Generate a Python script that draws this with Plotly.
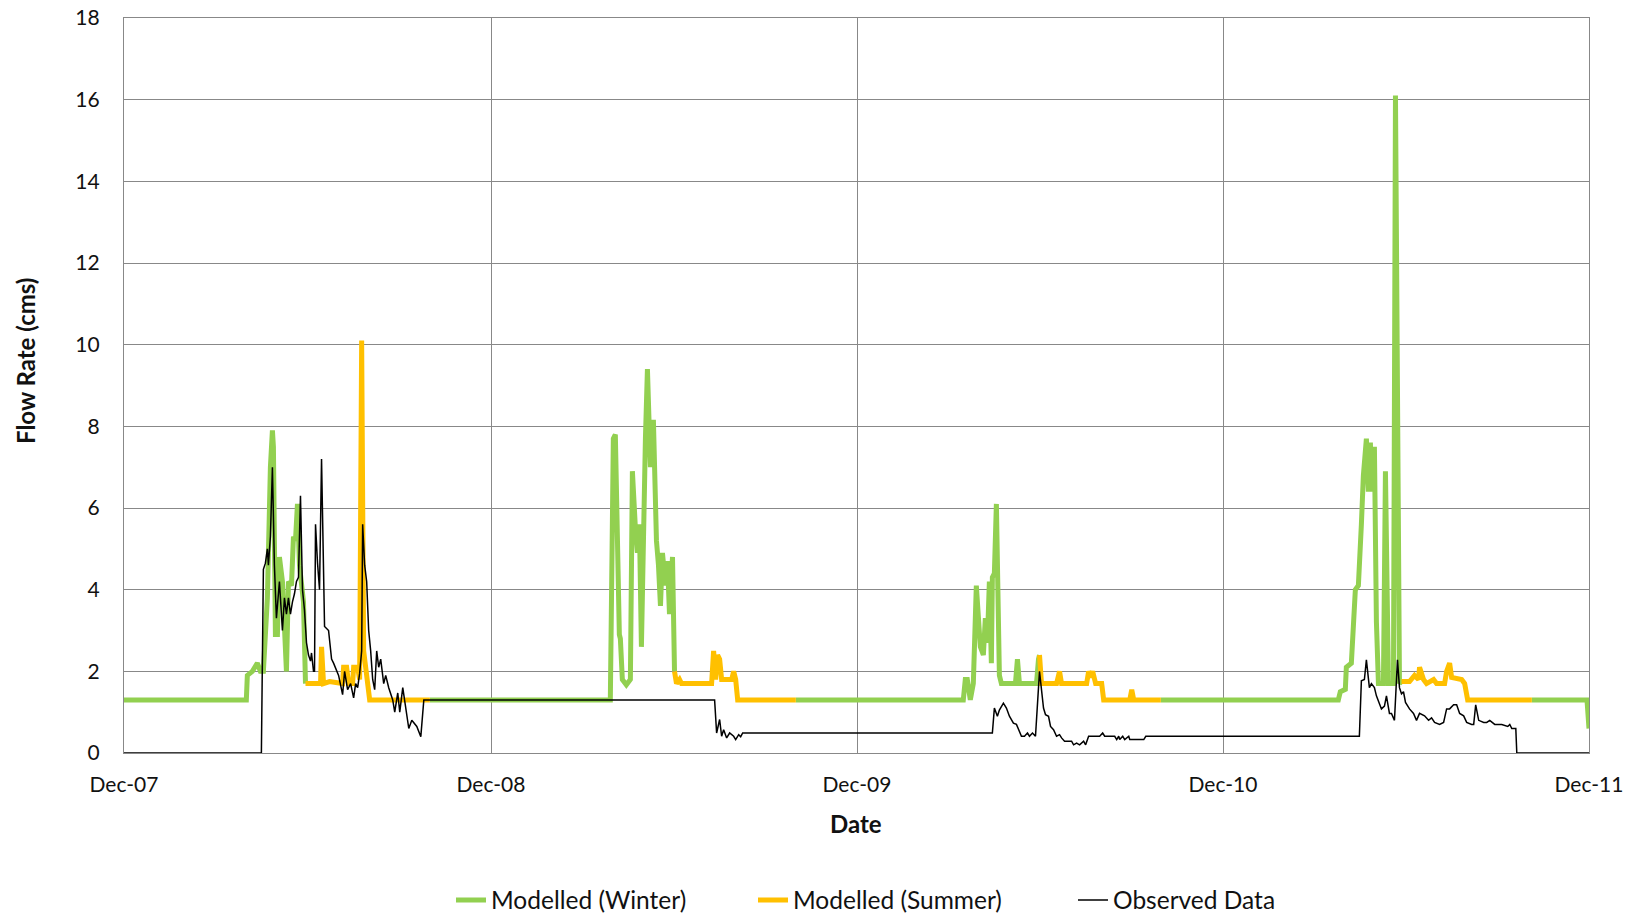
import pandas as pd
import plotly.graph_objects as go

# x values are days since 2007-12-01 ; None = gap
BASE_DATE = "2007-12-01"

winter_days = [0, 122, 123, 128, 133, 136, 139, 143, 146, 148, 149, 151, 153, 155, 158, 159, 162, 164, 167, 169, 171, 173, 175, 179, 181,
               None,
               305, 485, 488, 490, 494, 495, 497, 501, 505, 507, 510, 512, 514, 516, 520, 522, 525, 526, 528, 531, 533, 535, 537, 540, 542, 544, 547, 549,
               None,
               670, 837, 839, 841, 844, 847, 850, 853, 854, 857, 859, 861, 863, 865, 866, 868, 870, 873, 875, 889, 891, 893, 910, 912, 913,
               None,
               1034, 1211, 1213, 1218, 1219, 1224, 1226, 1228, 1231, 1233, 1234, 1236, 1239, 1241, 1243, 1244, 1247, 1249, 1251, 1256, 1258, 1261, 1266, 1268, 1272, 1274,
               None,
               1404, 1459, 1461]
winter_vals = [1.3, 1.3, 1.9, 2.0, 2.2, 2.0, 2.0, 3.8, 7.0, 7.9, 7.5, 2.9, 2.9, 4.8, 4.2, 3.7, 2.0, 4.2, 4.1, 5.3, 5.2, 6.1, 4.6, 3.7, 1.7,
               None,
               1.3, 1.3, 7.7, 7.8, 2.9, 2.8, 1.8, 1.67, 1.8, 6.9, 5.5, 4.9, 5.6, 2.6, 7.7, 9.4, 7.0, 8.1, 8.1, 5.2, 4.6, 3.6, 4.9, 4.1, 4.7, 3.4, 4.8, 2.0,
               None,
               1.3, 1.3, 1.8, 1.8, 1.3, 1.7, 4.1, 3.0, 2.6, 2.4, 3.3, 2.7, 4.2, 2.2, 4.3, 4.4, 6.1, 1.9, 1.7, 1.7, 2.3, 1.7, 1.7, 2.3, 2.4,
               None,
               1.3, 1.3, 1.5, 1.56, 2.1, 2.2, 3.1, 4.0, 4.1, 4.9, 5.6, 6.8, 7.7, 6.4, 7.6, 6.4, 7.5, 3.2, 1.7, 1.7, 6.9, 1.7, 1.7, 16.1, 1.7, 1.75,
               None,
               1.3, 1.3, 0.6]

summer_days = [181, 196, 197, 199, 205, 218, 219, 222, 224, 228, 229, 233, 235, 237, 239, 242, 245, 305,
               None,
               549, 551, 554, 556, 586, 588, 590, 592, 594, 596, 606, 608, 610, 612, 670,
               None,
               913, 915, 930, 933, 935, 960, 962, 964, 966, 969, 975, 977, 1003, 1005, 1007, 1034,
               None,
               1274, 1282, 1287, 1291, 1292, 1296, 1299, 1306, 1309, 1317, 1319, 1322, 1324, 1334, 1337, 1340, 1404]
summer_vals = [1.7, 1.7, 2.6, 1.7, 1.75, 1.7, 2.1, 2.1, 1.7, 1.7, 2.1, 2.1, 1.8, 10.1, 2.5, 1.8, 1.3, 1.3,
               None,
               2.0, 1.7, 1.8, 1.7, 1.7, 2.5, 1.8, 2.4, 2.3, 1.8, 1.8, 2.0, 1.8, 1.3, 1.3,
               None,
               2.4, 1.7, 1.7, 2.0, 1.7, 1.7, 2.0, 1.85, 2.0, 1.7, 1.7, 1.3, 1.3, 1.55, 1.3, 1.3,
               None,
               1.75, 1.75, 1.9, 1.8, 2.1, 1.8, 1.7, 1.8, 1.7, 1.7, 2.0, 2.2, 1.85, 1.8, 1.7, 1.3, 1.3]

observed_days = [0, 137, 139, 141, 143, 144, 146, 148, 150, 152, 155, 158, 160, 162, 164, 166, 168, 170, 172, 174, 176, 178, 180,
                 182, 184, 186, 187, 189, 190, 191, 193, 195, 197, 200, 204, 207, 209, 212, 214, 218, 220, 223, 226, 229, 231, 233,
                 235, 237, 238, 240, 242, 244, 246, 248, 250, 252, 254, 256, 259, 261, 264, 268, 270, 273, 275, 278, 280, 282, 284,
                 287, 289, 292, 296, 299,
                 589, 591, 594, 596, 598, 601, 604, 608, 610, 613, 615, 617,
                 866, 868, 871, 873, 877, 880, 883, 887, 890, 892, 895, 898, 901, 903, 906, 909, 913, 917, 919, 922, 924, 927, 930,
                 933, 935, 938, 945, 947, 950, 953, 957, 959, 962, 973, 976, 978, 988, 990, 992, 993, 996, 998, 1002, 1003, 1017, 1019,
                 1232, 1234, 1237, 1239, 1242, 1244, 1247, 1249, 1252, 1254, 1257, 1259, 1262, 1264, 1267, 1270, 1272, 1274, 1276,
                 1278, 1282, 1286, 1289, 1292, 1297, 1301, 1304, 1307, 1312, 1316, 1319, 1322, 1326, 1329, 1332, 1336, 1339, 1344,
                 1346, 1348, 1351, 1356, 1359, 1362, 1367, 1374, 1380, 1382, 1384, 1388, 1389, 1461]
observed_vals = [0, 0, 4.5, 4.65, 5.0, 4.6, 5.3, 7.0, 4.6, 3.3, 4.2, 3.0, 3.8, 3.4, 3.8, 3.4, 3.7, 3.9, 4.2, 4.3, 6.3, 4.0, 3.5,
                 2.7, 2.4, 2.25, 2.45, 2.0, 2.0, 5.6, 4.65, 4.0, 7.2, 3.1, 3.0, 2.3, 2.2, 2.0, 1.9, 1.43, 2.0, 1.55, 1.7, 1.35, 1.7, 1.6,
                 1.95, 2.5, 5.6, 4.6, 4.2, 3.0, 2.5, 1.8, 1.55, 2.5, 2.1, 2.3, 1.7, 1.9, 1.6, 1.3, 1.0, 1.47, 1.0, 1.6, 1.3, 0.9, 0.6,
                 0.8, 0.75, 0.65, 0.4, 1.3,
                 1.3, 0.49, 0.82, 0.41, 0.57, 0.37, 0.49, 0.41, 0.33, 0.45, 0.40, 0.49,
                 0.49, 1.1, 0.9, 1.05, 1.22, 1.1, 0.9, 0.73, 0.7, 0.6, 0.41, 0.41, 0.49, 0.41, 0.49, 0.41, 2.0, 1.1, 0.94, 0.9, 0.65, 0.57, 0.41,
                 0.45, 0.37, 0.29, 0.29, 0.2, 0.24, 0.2, 0.29, 0.2, 0.41, 0.41, 0.49, 0.41, 0.41, 0.33, 0.41, 0.33, 0.41, 0.33, 0.41, 0.33, 0.33, 0.41,
                 0.41, 1.77, 1.8, 2.28, 1.6, 1.7, 1.6, 1.4, 1.18, 1.08, 1.15, 1.4, 0.97, 0.97, 0.8, 2.28, 1.6, 1.45, 1.5,
                 1.24, 1.08, 0.97, 0.8, 0.97, 0.91, 0.8, 0.86, 0.75, 0.7, 0.75, 1.08, 1.08, 1.18, 1.18, 0.97, 0.91, 0.75, 0.7,
                 0.7, 1.18, 0.8, 0.75, 0.75, 0.8, 0.7, 0.7, 0.65, 0.7, 0.6, 0.6, 0, 0]

tick_dates = ["2007-12-01", "2008-12-01", "2009-12-01", "2010-12-01", "2011-12-01"]
tick_labels = ["Dec-07", "Dec-08", "Dec-09", "Dec-10", "Dec-11"]
y_ticks = [0, 2, 4, 6, 8, 10, 12, 14, 16, 18]

base = pd.Timestamp(BASE_DATE)


def to_dates(days):
    return [None if d is None else base + pd.Timedelta(days=d) for d in days]


FONT = "Lato, 'Open Sans', sans-serif"
TXT = "#111111"
GRID = "#888888"

fig = go.Figure()
fig.add_trace(go.Scatter(x=to_dates(winter_days), y=winter_vals, mode="lines", name="Modelled (Winter)",
                         line=dict(color="#92D050", width=5), connectgaps=False, legend="legend"))
fig.add_trace(go.Scatter(x=to_dates(summer_days), y=summer_vals, mode="lines", name="Modelled (Summer)",
                         line=dict(color="#FFC000", width=5), connectgaps=False, legend="legend2"))
fig.add_trace(go.Scatter(x=to_dates(observed_days), y=observed_vals, mode="lines", name="Observed Data",
                         line=dict(color="#000000", width=1.5), legend="legend3"))

L, R, T, B = 124, 43, 18, 164
W, H = 1632, 917
pw, ph = W - L - R, H - T - B


def px_x(p):
    return (p - L) / pw


def px_y(p):
    return (H - B - p) / ph


leg_common = dict(orientation="h", xanchor="left", yanchor="middle", y=px_y(900),
                  font=dict(family=FONT, size=24.5, color=TXT), bgcolor="rgba(0,0,0,0)")

fig.update_layout(
    width=W, height=H,
    margin=dict(l=L, r=R, t=T, b=B, pad=0, autoexpand=False),
    paper_bgcolor="white", plot_bgcolor="white",
    font=dict(family=FONT, size=21, color=TXT),
    hovermode=False,
    showlegend=True,
    legend=dict(x=px_x(491 - 40), **leg_common),
    legend2=dict(x=px_x(793 - 40), **leg_common),
    legend3=dict(x=px_x(1113 - 40), **leg_common),
    xaxis=dict(type="date", range=[tick_dates[0], tick_dates[-1]],
               tickmode="array", tickvals=tick_dates, ticktext=tick_labels,
               showgrid=True, gridcolor=GRID, gridwidth=1.3,
               showline=True, linecolor=GRID, linewidth=1.3, mirror=True,
               ticks="", ticklabelstandoff=13, automargin=False,
               tickfont=dict(family=FONT, size=21, color=TXT), zeroline=False),
    yaxis=dict(range=[0, 18], tickmode="array", tickvals=y_ticks,
               showgrid=True, gridcolor=GRID, gridwidth=1.3,
               showline=True, linecolor=GRID, linewidth=1.3, mirror=True,
               ticks="", ticklabelstandoff=19, automargin=False,
               tickfont=dict(family=FONT, size=21, color=TXT), zeroline=False),
    annotations=[
        dict(text="<b>Date</b>", xref="paper", yref="paper", x=px_x(856), y=px_y(823),
             xanchor="center", yanchor="middle", showarrow=False,
             font=dict(family=FONT, size=24, color=TXT)),
        dict(text="<b>Flow Rate (cms)</b>", xref="paper", yref="paper", x=px_x(25), y=px_y(361),
             xanchor="center", yanchor="middle", showarrow=False, textangle=-90,
             font=dict(family=FONT, size=24, color=TXT)),
    ],
)

fig.write_html("out.html", config={"displayModeBar": False},
               post_script="document.body.style.margin='0';")
